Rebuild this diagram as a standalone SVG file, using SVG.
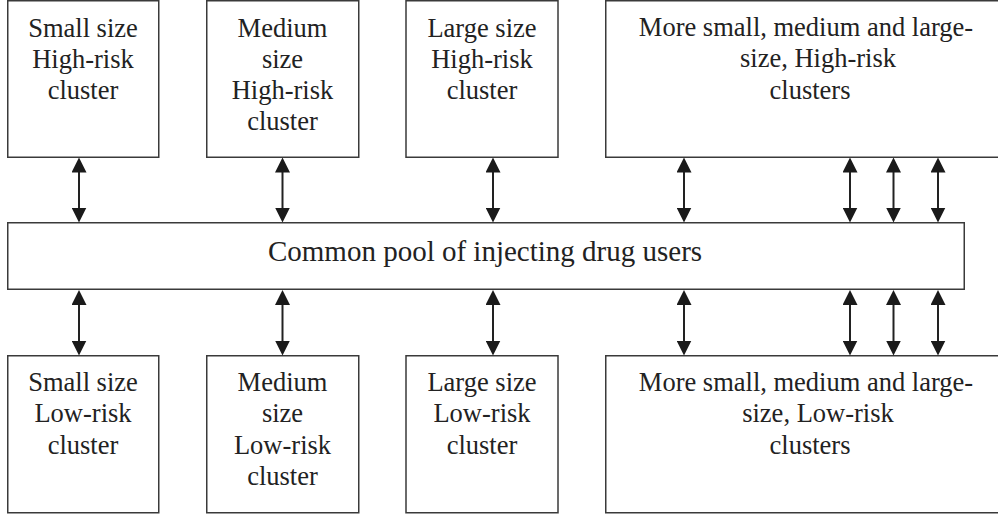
<svg xmlns="http://www.w3.org/2000/svg" width="998" height="517" viewBox="0 0 998 517">
  <style>
    .box { fill: #ffffff; stroke: #3a3a3a; stroke-width: 1.5; }
    .lbl { font-family: "Liberation Serif", "Times New Roman", serif; font-size: 26.5px; fill: #222222; text-anchor: middle; }
    .pool { font-family: "Liberation Serif", "Times New Roman", serif; font-size: 29px; fill: #222222; text-anchor: middle; }
    .link { stroke: #222222; stroke-width: 2; fill: none; marker-start: url(#head); marker-end: url(#head); }
  </style>
  <defs>
    <marker id="head" viewBox="0 0 15 15" refX="11" refY="7.5" markerWidth="15" markerHeight="15" markerUnits="userSpaceOnUse" orient="auto-start-reverse">
      <path d="M0,0 L15,7.5 L0,15 Z" fill="#1a1a1a"/>
    </marker>
  </defs>
  <rect width="998" height="517" fill="#ffffff"/>

  <!-- high-risk clusters (top row) -->
  <g id="small-high">
    <rect class="box" x="7.75" y="0.75" width="151" height="156.5"/>
    <text class="lbl" x="83" y="37">Small size</text>
    <text class="lbl" x="83" y="68">High-risk</text>
    <text class="lbl" x="83" y="99">cluster</text>
  </g>
  <g id="medium-high">
    <rect class="box" x="206.75" y="0.75" width="152" height="156.5"/>
    <text class="lbl" x="282.5" y="37">Medium</text>
    <text class="lbl" x="282.5" y="68">size</text>
    <text class="lbl" x="282.5" y="99">High-risk</text>
    <text class="lbl" x="282.5" y="130">cluster</text>
  </g>
  <g id="large-high">
    <rect class="box" x="406" y="0.75" width="152" height="156.5"/>
    <text class="lbl" x="482" y="37">Large size</text>
    <text class="lbl" x="482" y="68">High-risk</text>
    <text class="lbl" x="482" y="99">cluster</text>
  </g>
  <g id="more-high">
    <rect class="box" x="605.75" y="0.75" width="400" height="156.5"/>
    <text class="lbl" x="806" y="36">More small, medium and large-</text>
    <text class="lbl" x="818" y="67">size, High-risk</text>
    <text class="lbl" x="810" y="99">clusters</text>
  </g>

  <!-- shared pool -->
  <g id="common-pool">
    <rect class="box" x="7.75" y="222.75" width="956.5" height="66.5"/>
    <text class="pool" x="485" y="261">Common pool of injecting drug users</text>
  </g>

  <!-- low-risk clusters (bottom row) -->
  <g id="small-low">
    <rect class="box" x="7.75" y="355.75" width="151" height="157"/>
    <text class="lbl" x="83" y="391">Small size</text>
    <text class="lbl" x="83" y="422">Low-risk</text>
    <text class="lbl" x="83" y="454">cluster</text>
  </g>
  <g id="medium-low">
    <rect class="box" x="206.75" y="355.75" width="152" height="157"/>
    <text class="lbl" x="282.5" y="391">Medium</text>
    <text class="lbl" x="282.5" y="422">size</text>
    <text class="lbl" x="282.5" y="454">Low-risk</text>
    <text class="lbl" x="282.5" y="485">cluster</text>
  </g>
  <g id="large-low">
    <rect class="box" x="406" y="355.75" width="152" height="157"/>
    <text class="lbl" x="482" y="391">Large size</text>
    <text class="lbl" x="482" y="422">Low-risk</text>
    <text class="lbl" x="482" y="454">cluster</text>
  </g>
  <g id="more-low">
    <rect class="box" x="605.75" y="355.75" width="400" height="157"/>
    <text class="lbl" x="806" y="391">More small, medium and large-</text>
    <text class="lbl" x="818" y="422">size, Low-risk</text>
    <text class="lbl" x="810" y="454">clusters</text>
  </g>

  <!-- two-way links between clusters and the pool -->
  <g id="connectors">
    <line class="link" x1="79" y1="161.5" x2="79" y2="218.5"/>
    <line class="link" x1="282.5" y1="161.5" x2="282.5" y2="218.5"/>
    <line class="link" x1="493" y1="161.5" x2="493" y2="218.5"/>
    <line class="link" x1="684" y1="161.5" x2="684" y2="218.5"/>
    <line class="link" x1="850" y1="161.5" x2="850" y2="218.5"/>
    <line class="link" x1="893.5" y1="161.5" x2="893.5" y2="218.5"/>
    <line class="link" x1="938" y1="161.5" x2="938" y2="218.5"/>

    <line class="link" x1="79" y1="294" x2="79" y2="351.5"/>
    <line class="link" x1="282.5" y1="294" x2="282.5" y2="351.5"/>
    <line class="link" x1="493" y1="294" x2="493" y2="351.5"/>
    <line class="link" x1="684" y1="294" x2="684" y2="351.5"/>
    <line class="link" x1="850" y1="294" x2="850" y2="351.5"/>
    <line class="link" x1="893.5" y1="294" x2="893.5" y2="351.5"/>
    <line class="link" x1="938" y1="294" x2="938" y2="351.5"/>
  </g>
</svg>
